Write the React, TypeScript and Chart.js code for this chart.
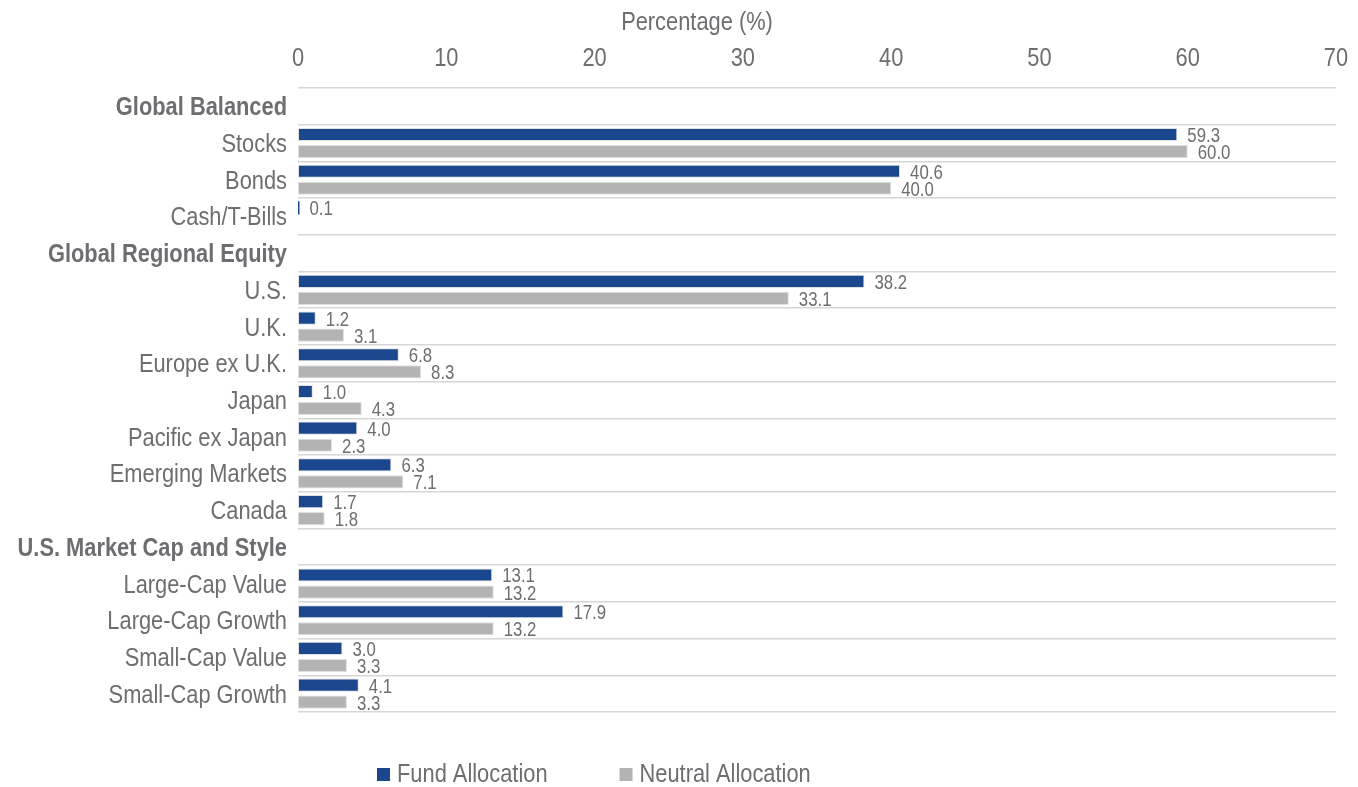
import React, { useEffect, useRef } from "react";
import { Chart, registerables } from "chart.js";

Chart.register(...registerables);

const categories = [
  "Global Balanced",
  "Stocks",
  "Bonds",
  "Cash/T-Bills",
  "Global Regional Equity",
  "U.S.",
  "U.K.",
  "Europe ex U.K.",
  "Japan",
  "Pacific ex Japan",
  "Emerging Markets",
  "Canada",
  "U.S. Market Cap and Style",
  "Large-Cap Value",
  "Large-Cap Growth",
  "Small-Cap Value",
  "Small-Cap Growth",
];

const headerRows = [0, 4, 12];

const fundAllocation = [
  null, 59.3, 40.6, 0.1,
  null, 38.2, 1.2, 6.8, 1.0, 4.0, 6.3, 1.7,
  null, 13.1, 17.9, 3.0, 4.1,
];

const neutralAllocation = [
  null, 60.0, 40.0, null,
  null, 33.1, 3.1, 8.3, 4.3, 2.3, 7.1, 1.8,
  null, 13.2, 13.2, 3.3, 3.3,
];

const seriesNames = ["Fund Allocation", "Neutral Allocation"];
const xTicks = [0, 10, 20, 30, 40, 50, 60, 70];
const axisTitle = "Percentage (%)";

const FONT = "'Liberation Sans', Arial, sans-serif";
const NARROW = 0.84; // horizontal squeeze to imitate a narrow face
const TEXT = "#6D6E71";
const BLUE = "#1B478E";
const GRAY = "#B3B3B3";

function narrowText(
  ctx: CanvasRenderingContext2D,
  text: string,
  x: number,
  y: number,
  align: CanvasTextAlign,
  size: number,
  bold = false
) {
  ctx.save();
  ctx.font = `${bold ? "bold " : ""}${size}px ${FONT}`;
  ctx.fillStyle = TEXT;
  ctx.textAlign = align;
  ctx.textBaseline = "alphabetic";
  ctx.translate(x, y);
  ctx.scale(NARROW, 1);
  ctx.fillText(text, 0, 0);
  const w = ctx.measureText(text).width * NARROW;
  ctx.restore();
  return w;
}

const textPlugin = {
  id: "narrowText",
  afterDatasetsDraw(chart: any) {
    const ctx = chart.ctx;
    const area = chart.chartArea;
    const xs = chart.scales.x;
    const ys = chart.scales.y;

    // value labels
    chart.data.datasets.forEach((ds: any, di: number) => {
      const meta = chart.getDatasetMeta(di);
      meta.data.forEach((el: any, i: number) => {
        const v = ds.data[i];
        if (v === null || v === undefined) return;
        narrowText(ctx, v.toFixed(1), el.x + 10, el.y + 7.5, "left", 20);
      });
    });

    // category labels
    categories.forEach((c, i) => {
      const y = ys.getPixelForValue(i);
      narrowText(ctx, c, area.left - 11, y + 9, "right", 26, headerRows.includes(i));
    });

    // x tick labels
    xTicks.forEach((v) => {
      narrowText(ctx, String(v), xs.getPixelForValue(v), 65.5, "center", 26);
    });

    // axis title
    narrowText(ctx, axisTitle, area.left + 399, 30, "center", 26);

    // legend
    const colors = [BLUE, GRAY];
    const base = area.bottom + 69.5;
    let x = area.left + 79;
    chart.data.datasets.forEach((ds: any, i: number) => {
      ctx.save();
      ctx.fillStyle = colors[i];
      ctx.fillRect(x, base - 13.5, 13, 13);
      ctx.restore();
      const w = narrowText(ctx, ds.label, x + 20, base, "left", 26);
      x += 20 + w + 72;
    });
  },
};

const borderFor = (c: any) => (c.raw !== null && c.raw < 1 ? 0 : 1);

export default function App() {
  const ref = useRef<HTMLCanvasElement | null>(null);

  useEffect(() => {
    document.body.style.margin = "0";
    const canvas = ref.current;
    if (!canvas) return;
    const chart = new Chart(canvas, {
      type: "bar",
      data: {
        labels: categories,
        datasets: [
          {
            label: seriesNames[0],
            data: fundAllocation,
            backgroundColor: BLUE,
            borderColor: "#E0E0E0",
            borderWidth: borderFor,
            borderSkipped: false,
            categoryPercentage: 0.93,
            barPercentage: 0.77,
          },
          {
            label: seriesNames[1],
            data: neutralAllocation,
            backgroundColor: GRAY,
            borderColor: "#E0E0E0",
            borderWidth: borderFor,
            borderSkipped: false,
            categoryPercentage: 0.93,
            barPercentage: 0.77,
          },
        ] as any,
      },
      options: {
        indexAxis: "y",
        animation: false,
        responsive: false,
        layout: { padding: { left: 0, right: 22, top: 0, bottom: 75 } },
        plugins: {
          legend: { display: false },
          tooltip: { enabled: false },
        },
        scales: {
          x: {
            position: "top",
            min: 0,
            max: 70,
            afterBuildTicks: (scale: any) => {
              scale.ticks = xTicks.map((v) => ({ value: v }));
            },
            afterFit: (scale: any) => {
              scale.height = 88;
            },
            grid: { display: false, drawTicks: false },
            border: { display: false },
            ticks: { display: false },
          },
          y: {
            afterFit: (scale: any) => {
              scale.width = 298;
            },
            grid: {
              display: true,
              offset: true,
              drawTicks: false,
              color: "#D6D6D6",
              lineWidth: 1.5,
            },
            border: { display: false },
            ticks: { display: false, autoSkip: false },
          },
        },
      } as any,
      plugins: [textPlugin],
    });
    return () => chart.destroy();
  }, []);

  return (
    <div style={{ width: 1358, height: 787, background: "#fff" }}>
      <canvas ref={ref} width={1358} height={787} />
    </div>
  );
}
